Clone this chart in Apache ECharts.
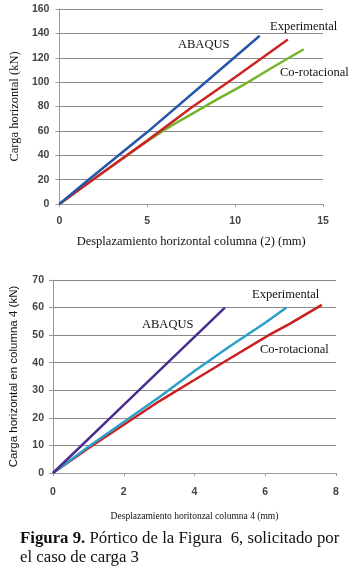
<!DOCTYPE html>
<html>
<head>
<meta charset="utf-8">
<script src="https://cdn.jsdelivr.net/npm/echarts@6/dist/echarts.min.js"></script>
<style>
html,body{margin:0;padding:0;background:#fff;}
#c{width:350px;height:569px;}
</style>
</head>
<body>
<div id="c"></div>
<script>
// Top chart: Desplazamiento horizontal columna (2) (mm) vs Carga horizontal (kN)
const topAbaqus = [[0,0],[1.5,18],[5,59],[8,96],[11.4,138]];
const topExperimental = [[0,0],[2,21],[5,52],[7.5,79],[10,104],[13,135]];
const topCorot = [[0,0],[2,21],[4,41.5],[5,51.5],[6,61],[7,69.5],[9,86],[10.5,98],[12,111],[13.9,127]];
// Bottom chart: Desplazamiento horitonzal columna 4 (mm) vs Carga horizontal en columna 4 (kN)
const botAbaqus = [[0,0],[2,24.7],[4.86,60]];
const botExperimental = [[0,0],[1,9.5],[2,18.5],[3,27.5],[4,37],[5,46],[6,54.5],[6.6,60]];
const botCorot = [[0,0],[1,9],[2,17.5],[3,26],[3.9,33],[4.8,40],[6.1,50],[6.7,54.2],[7.6,61]];

const tickFont = {fontFamily:'Liberation Sans', fontWeight:'bold', fontSize:10.5, color:'#444'};
const gridLine = {show:true, lineStyle:{color:'#8a8a8a', width:1}};
const axLine = {show:true, lineStyle:{color:'#9a9a9a', width:1}};

const chart = echarts.init(document.getElementById('c'));
function line(data, color, xi){
  return {type:'line', data:data, xAxisIndex:xi, yAxisIndex:xi, showSymbol:false, symbol:'none',
    lineStyle:{color:color, width:2.5}, itemStyle:{color:color}, animation:false, z:3};
}
chart.setOption({
  animation:false,
  grid:[
    {left:48, top:9, width:275, height:195},
    {left:52, top:280, width:284, height:193}
  ],
  xAxis:[
    {type:'value', gridIndex:0, min:0, max:15, interval:5,
     axisLine:axLine, axisTick:{show:true, length:3, lineStyle:{color:'#9a9a9a'}},
     splitLine:{show:false}, axisLabel:Object.assign({margin:12}, tickFont),
     name:'Desplazamiento horizontal columna (2) (mm)', nameLocation:'middle', nameGap:31,
     nameTextStyle:{fontFamily:'Liberation Serif', fontSize:12.5, color:'#111'}},
    {type:'value', gridIndex:1, min:0, max:8, interval:2,
     axisLine:axLine, axisTick:{show:true, length:3, lineStyle:{color:'#9a9a9a'}},
     splitLine:{show:false}, axisLabel:Object.assign({margin:14}, tickFont),
     name:'Desplazamiento horitonzal columna 4 (mm)', nameLocation:'middle', nameGap:38,
     nameTextStyle:{fontFamily:'Liberation Serif', fontSize:9.5, color:'#111'}}
  ],
  yAxis:[
    {type:'value', gridIndex:0, min:0, max:160, interval:20,
     axisLine:axLine, axisTick:{show:true, length:4, lineStyle:{color:'#9a9a9a'}},
     splitLine:gridLine, axisLabel:Object.assign({margin:10}, tickFont),
     name:'Carga horizontal (kN)', nameLocation:'middle', nameGap:36,
     nameTextStyle:{fontFamily:'Liberation Serif', fontSize:12.5, color:'#111'}},
    {type:'value', gridIndex:1, min:0, max:70, interval:10,
     axisLine:axLine, axisTick:{show:true, length:4, lineStyle:{color:'#9a9a9a'}},
     splitLine:gridLine, axisLabel:Object.assign({margin:9}, tickFont),
     name:'Carga horizontal en columna 4 (kN)', nameLocation:'middle', nameGap:33,
     nameTextStyle:{fontFamily:'Liberation Sans', fontSize:11.5, color:'#111'}}
  ],
  series:[
    line(topCorot, '#74b52c', 0),
    line(topExperimental, '#cc2424', 0),
    line(topAbaqus, '#2457a8', 0),
    line(botCorot, '#cc1f1f', 1),
    line(botExperimental, '#2aa0c8', 1),
    line(botAbaqus, '#4a2d8e', 1)
  ],
  graphic:[
    {type:'text', left:178, top:38, style:{text:'ABAQUS', font:'12.5px "Liberation Serif"', fill:'#111'}},
    {type:'text', left:270, top:20, style:{text:'Experimental', font:'12.5px "Liberation Serif"', fill:'#111'}},
    {type:'text', left:280, top:66, style:{text:'Co-rotacional', font:'12.5px "Liberation Serif"', fill:'#111'}},
    {type:'text', left:142, top:318, style:{text:'ABAQUS', font:'12.5px "Liberation Serif"', fill:'#111'}},
    {type:'text', left:252, top:288, style:{text:'Experimental', font:'12.5px "Liberation Serif"', fill:'#111'}},
    {type:'text', left:260, top:343, style:{text:'Co-rotacional', font:'12.5px "Liberation Serif"', fill:'#111'}},
    {type:'text', left:20, top:530, style:{rich:{b:{font:'bold 16.8px "Liberation Serif"', fill:'#111'}, r:{font:'16.8px "Liberation Serif"', fill:'#111'}},
      text:'{b|Figura 9.}{r| Pórtico de la Figura  6, solicitado por}', fill:'#111'}},
    {type:'text', left:20, top:549, style:{text:'el caso de carga 3', font:'16.8px "Liberation Serif"', fill:'#111'}}
  ]
});
</script>
</body>
</html>
